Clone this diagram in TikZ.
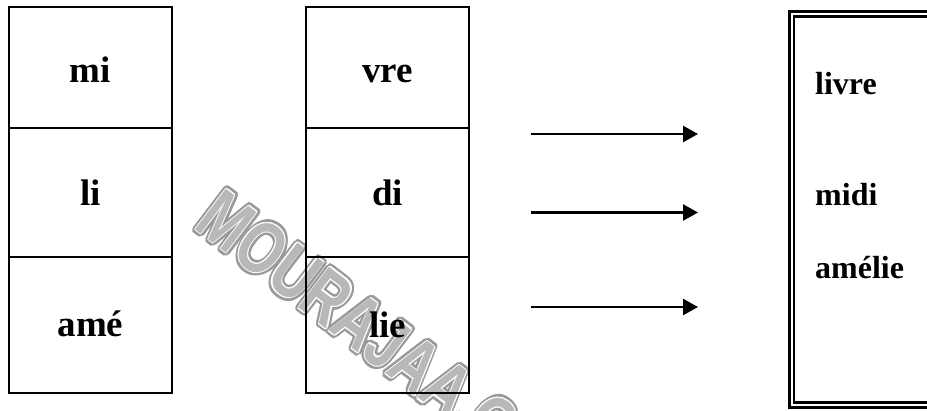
\documentclass[tikz,border=0pt]{standalone}
\usepackage{fontspec}
\setmainfont{Liberation Serif}
\newfontfamily\wmfont{Liberation Sans Bold}
\usetikzlibrary{arrows.meta}
\definecolor{wmgray}{HTML}{999999}
\definecolor{wmlight}{HTML}{B8B8B8}
\begin{document}
\begin{tikzpicture}[x=1pt,y=1pt,
  cell/.style={draw,line width=2pt},
  word/.style={font=\fontsize{37}{40}\selectfont\bfseries, anchor=base, inner sep=0pt},
  answer/.style={font=\fontsize{32}{34}\selectfont\bfseries, anchor=base west, inner sep=0pt},
  arr/.style={line width=2.5pt, -{Triangle[length=15pt,width=16pt]}},
  wm/.style={font=\wmfont\fontsize{74}{76}\selectfont, anchor=base west, inner sep=0pt, transform shape}
]
\useasboundingbox (0,0) rectangle (927,-410);
\clip (0,0) rectangle (927,-410);
% watermark
\begin{scope}[shift={(192.7,-227.2)}, rotate=-37.2, xscale=0.75]
  \foreach \a in {0,30,...,330} {\node[wm, text=wmgray] at (\a:4pt) {MOURAJAA.COM};}
  \foreach \a in {0,60,...,300} {\node[wm, text=white] at (\a:1.3pt) {MOURAJAA.COM};}
  \node[wm, text=wmlight] (wmark) at (0,0) {MOURAJAA.COM};
\end{scope}
% left column
\draw[cell] (9,-7) rectangle (172,-128);
\draw[cell] (9,-128) rectangle (172,-257);
\draw[cell] (9,-257) rectangle (172,-393);
\node[word] (mi) at (90.5,-82) {mi};
\node[word] (li) at (90.5,-205) {li};
\node[word] (ame) at (90.5,-336) {amé};
% middle column
\draw[cell] (306,-7) rectangle (469,-128);
\draw[cell] (306,-128) rectangle (469,-257);
\draw[cell] (306,-257) rectangle (469,-393);
\node[word] (vre) at (387.5,-82) {vre};
\node[word] (di) at (387.5,-205) {di};
\node[word] (lie) at (387.5,-337) {lie};
% arrows
\coordinate (a1s) at (530.5,-134); \coordinate (a1e) at (698,-134);
\coordinate (a2s) at (530.5,-212.5); \coordinate (a2e) at (698,-212.5);
\coordinate (a3s) at (531,-307); \coordinate (a3e) at (698,-307);
\draw[arr] (a1s) -- (a1e);
\draw[arr] (a2s) -- (a2e);
\draw[arr] (a3s) -- (a3e);
% right double-framed box
\draw[line width=3pt] (789,-11) rectangle (945,-407);
\draw[line width=2.5pt] (793.8,-16.3) rectangle (940,-402.3);
\node[answer] (livre) at (815,-94) {livre};
\node[answer] (midi) at (815,-205) {midi};
\node[answer] (amelie) at (815,-278) {amélie};
\end{tikzpicture}
\end{document}
